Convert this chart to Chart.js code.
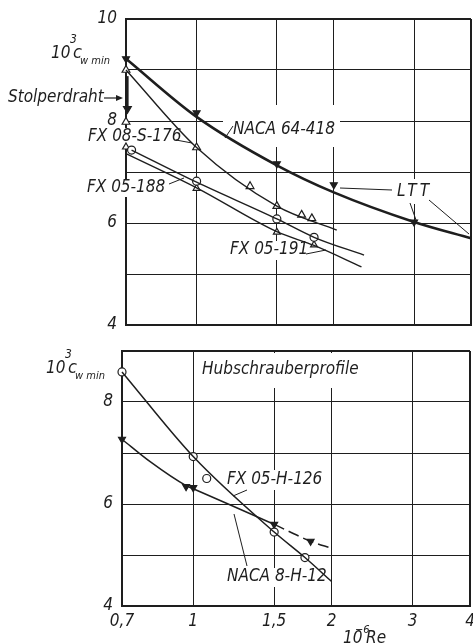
<!DOCTYPE html>
<html>
<head>
<meta charset="utf-8">
<script src="https://cdn.jsdelivr.net/npm/chart.js@4.4.1/dist/chart.umd.min.js"></script>
<style>
  body { margin: 0; background: #fff; width: 473px; height: 643px; overflow: hidden; position: relative; }
  canvas { position: absolute; left: 0; }
  #topChart { top: 0; }
  #botChart { top: 335px; }
</style>
</head>
<body>
<canvas id="topChart" width="473" height="335"></canvas>
<canvas id="botChart" width="473" height="308"></canvas>
<script>
const FAM = '"Liberation Sans Narrow", "DejaVu Sans Condensed", sans-serif';
const INK = '#1e1e1e';

// Re-Achse (10^-6 Re)
const reTicks = [0.7, 1, 1.5, 2, 3, 4];

// oberes Diagramm
const naca64X = [0.7, 1, 1.5, 2, 3, 4];
const naca64Y = [9.22, 8.08, 7.13, 6.6, 6.02, 5.7];
const naca64MkX = [0.7, 1, 1.5, 2, 3];
const naca64MkY = [9.22, 8.16, 7.16, 6.75, 6.02];
const stolperX = [0.705, 0.705];
const stolperY = [8.88, 8.24];
const fx08X = [0.7, 1, 1.5, 2.03];
const fx08Y = [9.0, 7.48, 6.33, 5.86];
const fx08MkX = [0.7, 0.7, 1, 1.31, 1.5, 1.7, 1.79];
const fx08MkY = [9.0, 7.98, 7.48, 6.72, 6.33, 6.16, 6.09];
const fx188X = [0.72, 1, 1.5, 1.81, 2.33];
const fx188Y = [7.43, 6.8, 6.08, 5.72, 5.37];
const fx188MkX = [0.72, 1, 1.5, 1.81];
const fx188MkY = [7.43, 6.82, 6.08, 5.72];
const fx191X = [0.7, 1, 1.5, 1.81, 2.3];
const fx191Y = [7.36, 6.69, 5.83, 5.56, 5.14];
const fx191MkX = [0.7, 1, 1.5, 1.81];
const fx191MkY = [7.49, 6.68, 5.82, 5.57];

// unteres Diagramm (Hubschrauberprofile)
const fxH126X = [0.7, 1, 1.5, 1.75, 2.0];
const fxH126Y = [8.59, 6.93, 5.45, 4.95, 4.48];
const fxH126MkX = [0.7, 1, 1.07, 1.5, 1.75];
const fxH126MkY = [8.59, 6.93, 6.5, 5.45, 4.95];
const naca8X = [0.7, 0.806, 0.965, 1, 1.5, 1.8, 2.0];
const naca8Y = [7.27, 6.83, 6.36, 6.3, 5.6, 5.27, 5.13];
const naca8MkX = [0.7, 0.965, 1, 1.5, 1.8];
const naca8MkY = [7.27, 6.34, 6.32, 5.6, 5.27];

const pts = (xs, ys) => xs.map((x, i) => ({ x, y: ys[i] }));

function curve(xs, ys, width, extra) {
  return Object.assign({
    data: pts(xs, ys), borderColor: INK, borderWidth: width,
    pointRadius: 0, tension: 0.3, cubicInterpolationMode: 'monotone', clip: false
  }, extra || {});
}
function marks(xs, ys, style, filled, extra) {
  return Object.assign({
    data: pts(xs, ys), showLine: false, pointStyle: style,
    pointRadius: style === 'circle' ? 4 : 4.5,
    pointRotation: filled ? 180 : 0,
    pointBackgroundColor: filled ? INK : '#fff',
    pointBorderColor: INK, pointBorderWidth: 1.2, clip: false
  }, extra || {});
}

function font(size) { return 'italic ' + size + 'px ' + FAM; }

function txt(ctx, s, x, y, size, base) {
  ctx.font = font(size);
  ctx.fillStyle = INK;
  ctx.textAlign = 'left';
  ctx.textBaseline = base || 'middle';
  ctx.fillText(s, x, y);
}
function seg(ctx, x1, y1, x2, y2, w) {
  ctx.beginPath();
  ctx.moveTo(x1, y1);
  ctx.lineTo(x2, y2);
  ctx.lineWidth = w || 1;
  ctx.strokeStyle = INK;
  ctx.stroke();
}
function blank(ctx, x, y, w, h) {
  ctx.fillStyle = '#fff';
  ctx.fillRect(x, y, w, h);
}

function xScale(showLabels, h) {
  return {
    type: 'logarithmic', min: 0.7, max: 4,
    afterBuildTicks: s => { s.ticks = reTicks.map(v => ({ value: v })); },
    afterFit: s => { s.height = h; s.paddingLeft = 0; s.paddingRight = 0; },
    grid: {
      color: INK, drawTicks: false,
      lineWidth: c => (c.tick && (c.tick.value === 4 || c.tick.value === 0.7)) ? 2 : 1
    },
    border: { color: INK, width: 2 },
    ticks: {
      display: showLabels, color: INK, padding: 5, maxRotation: 0,
      font: { family: FAM, size: 17, style: 'italic' },
      callback: v => String(v).replace('.', ',')
    }
  };
}
function yScale(min, max, w) {
  return {
    min, max,
    afterFit: s => { s.width = w; s.paddingTop = 0; s.paddingBottom = 0; },
    grid: {
      color: INK, drawTicks: false,
      lineWidth: c => (c.tick && (c.tick.value === max || c.tick.value === min)) ? 2 : 1
    },
    border: { color: INK, width: 2 },
    ticks: {
      stepSize: 1, color: INK, padding: 9,
      font: { family: FAM, size: 17, style: 'italic' },
      callback: v => (v % 2 === 0 ? String(v) : '')
    }
  };
}

function cwLabel(ctx, x, y) {
  // 10^3 c_w min
  txt(ctx, '10', x, y, 17, 'alphabetic');
  txt(ctx, '3', x + 19, y - 15, 12, 'alphabetic');
  txt(ctx, 'c', x + 22, y, 18, 'alphabetic');
  txt(ctx, 'w min', x + 29, y + 6, 11, 'alphabetic');
}

const topNotes = {
  id: 'topNotes',
  beforeDatasetsDraw(chart) {
    const ctx = chart.ctx;
    blank(ctx, 86, 128, 92, 18);
    blank(ctx, 86, 180, 84, 17);
    blank(ctx, 223, 105, 117, 42);
    blank(ctx, 392, 179, 42, 25);
    blank(ctx, 228, 241, 76, 19);
  },
  afterDatasetsDraw(chart) {
    const ctx = chart.ctx;
    cwLabel(ctx, 51, 58);
    txt(ctx, 'Stolperdraht', 8, 98, 17);
    seg(ctx, 104, 98, 119, 98, 1.2);
    ctx.beginPath();
    ctx.moveTo(123, 98); ctx.lineTo(116, 95); ctx.lineTo(116, 101); ctx.closePath();
    ctx.fillStyle = INK; ctx.fill();
    txt(ctx, 'FX 08-S-176', 88, 137, 17);
    seg(ctx, 176, 140, 192, 143);
    txt(ctx, 'FX 05-188', 87, 188, 17);
    seg(ctx, 169, 184, 184, 178);
    txt(ctx, 'NACA 64-418', 233, 130, 17);
    seg(ctx, 233, 126, 225, 138);
    ctx.letterSpacing = '3px';
    txt(ctx, 'LTT', 397, 192, 17);
    ctx.letterSpacing = '0px';
    seg(ctx, 340, 188, 392, 190);
    seg(ctx, 410, 203, 416, 220);
    seg(ctx, 429, 200, 469, 234);
    txt(ctx, 'FX 05-191', 230, 250, 17);
    seg(ctx, 306, 254, 326, 250);
  }
};

const botNotes = {
  id: 'botNotes',
  beforeDatasetsDraw(chart) {
    const ctx = chart.ctx;
    blank(ctx, 198, 18, 176, 35);
    blank(ctx, 225, 135, 100, 20);
    blank(ctx, 225, 233, 98, 19);
  },
  afterDatasetsDraw(chart) {
    const ctx = chart.ctx;
    cwLabel(ctx, 46, 38);
    txt(ctx, 'Hubschrauberprofile', 202, 35, 17);
    txt(ctx, 'FX 05-H-126', 227, 145, 17);
    seg(ctx, 247, 155, 233, 161);
    txt(ctx, 'NACA 8-H-12', 227, 242, 17);
    seg(ctx, 247, 231, 234, 179);
    // Achsentitel 10^-6 Re
    txt(ctx, '10', 343, 308, 17, 'alphabetic');
    txt(ctx, '−6', 355, 298, 11, 'alphabetic');
    txt(ctx, 'Re', 366, 308, 17, 'alphabetic');
  }
};

const common = {
  responsive: false, animation: false, devicePixelRatio: 1,
  plugins: { legend: { display: false }, tooltip: { enabled: false } }
};

new Chart(document.getElementById('topChart'), {
  type: 'line',
  data: {
    datasets: [
      curve(naca64X, naca64Y, 2.6, { tension: 0.4 }),
      marks(naca64MkX, naca64MkY, 'triangle', true, { pointRadius: 4 }),
      curve(stolperX, stolperY, 2.4, { tension: 0 }),
      marks([stolperX[1]], [stolperY[1]], 'triangle', true, { pointRadius: 4.5 }),
      curve(fx08X, fx08Y, 1.4),
      marks(fx08MkX, fx08MkY, 'triangle', false),
      curve(fx188X, fx188Y, 1.4, { tension: 0.1 }),
      marks(fx188MkX, fx188MkY, 'circle', false),
      curve(fx191X, fx191Y, 1.4, { tension: 0.1 }),
      marks(fx191MkX, fx191MkY, 'triangle', false, { pointRadius: 4 })
    ]
  },
  options: Object.assign({}, common, {
    layout: { autoPadding: false, padding: { left: 0, top: 19, right: 2, bottom: 0 } },
    scales: { x: xScale(false, 10), y: yScale(4, 10, 126) }
  }),
  plugins: [topNotes]
});

new Chart(document.getElementById('botChart'), {
  type: 'line',
  data: {
    datasets: [
      curve(fxH126X, fxH126Y, 1.5, { tension: 0.15 }),
      marks(fxH126MkX, fxH126MkY, 'circle', false),
      curve(naca8X, naca8Y, 1.5, {
        tension: 0.3,
        segment: { borderDash: c => (c.p0.parsed.x >= 1.5 ? [11, 5] : undefined) }
      }),
      marks(naca8MkX, naca8MkY, 'triangle', true, { pointRadius: 4 })
    ]
  },
  options: Object.assign({}, common, {
    layout: { autoPadding: false, padding: { left: 0, top: 16, right: 3, bottom: 0 } },
    scales: { x: xScale(true, 37), y: yScale(4, 9, 122) }
  }),
  plugins: [botNotes]
});
</script>
</body>
</html>
